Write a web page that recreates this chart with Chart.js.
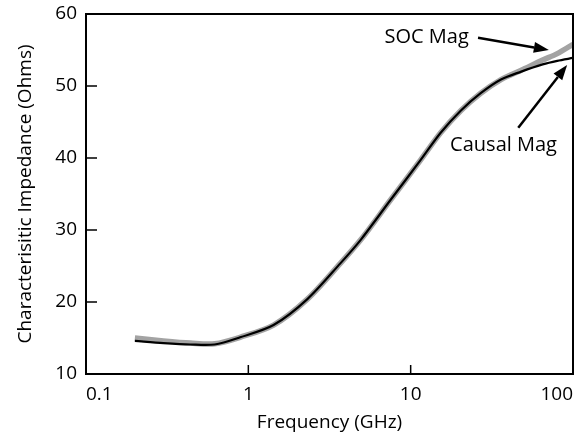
<!DOCTYPE html>
<html><head><meta charset="utf-8">
<script src="https://cdn.jsdelivr.net/npm/chart.js@4/dist/chart.umd.min.js"></script>
<style>html,body{margin:0;padding:0;background:#fff}#wrap{width:584px;height:436px}</style>
</head><body><div id="wrap"><canvas id="c" width="584" height="436"></canvas></div>
<script>
const freq   = [0.2, 0.3, 0.44, 0.62, 0.89, 1.43, 2.31, 3.7, 4.91, 7.53, 11.5, 15.3, 20.4, 27, 36, 48, 65, 80, 100];
const causal = [14.6, 14.3, 14.1, 14.1, 15.1, 16.8, 20.4, 25.4, 28.6, 34.2, 39.7, 43.5, 46.6, 49.0, 50.9, 52.0, 53.0, 53.5, 53.9];
const soc    = [15.0, 14.6, 14.3, 14.2, 15.1, 16.8, 20.4, 25.4, 28.6, 34.2, 39.7, 43.5, 46.6, 49.0, 50.9, 52.2, 53.6, 54.5, 55.8];
const xTicks = [0.1, 1, 10, 100];
const yTicks = [10, 20, 30, 40, 50, 60];
const notes = [
  {text: 'SOC Mag', at: [6.9, 56.8], tail: [26, 56.7], head: [71, 55.0]},
  {text: 'Causal Mag', at: [17.5, 41.8], tail: [46, 44.2], head: [92, 52.9]}
];
const FONT = "'Open Sans', sans-serif";

const frame = {
  id: 'frame',
  afterDatasetsDraw(chart) {
    const {ctx, chartArea: a, scales: {x, y}} = chart;
    ctx.save();
    ctx.strokeStyle = '#000'; ctx.lineWidth = 2;
    ctx.strokeRect(a.left, a.top, a.right - a.left, a.bottom - a.top);
    ctx.lineWidth = 1.5;
    ctx.beginPath();
    xTicks.forEach(v => { const px = x.getPixelForValue(v); ctx.moveTo(px, a.bottom); ctx.lineTo(px, a.bottom - 9); });
    yTicks.forEach(v => { const py = y.getPixelForValue(v); ctx.moveTo(a.left, py); ctx.lineTo(a.left + 11, py); });
    ctx.stroke();
    // annotations
    ctx.fillStyle = '#000';
    ctx.font = "20px " + FONT;
    ctx.textBaseline = 'middle';
    notes.forEach(n => {
      const tx = x.getPixelForValue(n.at[0]), ty = y.getPixelForValue(n.at[1]);
      ctx.textAlign = 'left';
      ctx.fillText(n.text, tx, ty);
      const x0 = x.getPixelForValue(n.tail[0]), y0 = y.getPixelForValue(n.tail[1]);
      const x1 = x.getPixelForValue(n.head[0]), y1 = y.getPixelForValue(n.head[1]);
      const ang = Math.atan2(y1 - y0, x1 - x0);
      const L = 15, W = 5.5;
      const bx = x1 - L * Math.cos(ang), by = y1 - L * Math.sin(ang);
      ctx.lineWidth = 2.5;
      ctx.beginPath(); ctx.moveTo(x0, y0); ctx.lineTo(bx, by); ctx.stroke();
      ctx.beginPath();
      ctx.moveTo(x1, y1);
      ctx.lineTo(bx + W * Math.sin(ang), by - W * Math.cos(ang));
      ctx.lineTo(bx - W * Math.sin(ang), by + W * Math.cos(ang));
      ctx.closePath(); ctx.fill();
    });
    ctx.restore();
  }
};

new Chart(document.getElementById('c'), {
  type: 'line',
  data: {
    labels: freq,
    datasets: [
      {label: 'Causal Mag', data: freq.map((f, i) => ({x: f, y: causal[i]})), borderColor: '#000', borderWidth: 2.2, pointRadius: 0, tension: 0.3, order: 0},
      {label: 'SOC Mag', data: freq.map((f, i) => ({x: f, y: soc[i]})), borderColor: '#a3a3a3', borderWidth: 5.5, pointRadius: 0, tension: 0.3, order: 1}
    ]
  },
  options: {
    responsive: false, animation: false,
    layout: {padding: {left: 0, right: 11, top: 14, bottom: 0}},
    plugins: {legend: {display: false}, tooltip: {enabled: false}},
    scales: {
      x: {
        type: 'logarithmic', min: 0.1, max: 100,
        afterBuildTicks: s => { s.ticks = xTicks.map(v => ({value: v})); },
        afterFit: s => { s.height = 62; s.paddingLeft = 0; s.paddingRight = 0; },
        grid: {display: false, drawTicks: false},
        border: {display: false},
        ticks: {color: '#000', font: {family: FONT, size: 19}, padding: 9, maxRotation: 0, autoSkip: false, align: 'inner',
                callback: v => String(v)},
        title: {display: true, text: 'Frequency (GHz)', color: '#000', font: {family: FONT, size: 19}, padding: {top: 0, bottom: 2}}
      },
      y: {
        min: 10, max: 60,
        afterBuildTicks: s => { s.ticks = yTicks.map(v => ({value: v})); },
        afterFit: s => { s.width = 86; s.paddingTop = 0; s.paddingBottom = 0; },
        grid: {display: false, drawTicks: false},
        border: {display: false},
        ticks: {color: '#000', font: {family: FONT, size: 19}, padding: 9},
        title: {display: true, text: 'Characterisitic Impedance (Ohms)', color: '#000', font: {family: FONT, size: 19}, padding: {top: 14, bottom: 0}}
      }
    }
  },
  plugins: [frame]
});
</script></body></html>
